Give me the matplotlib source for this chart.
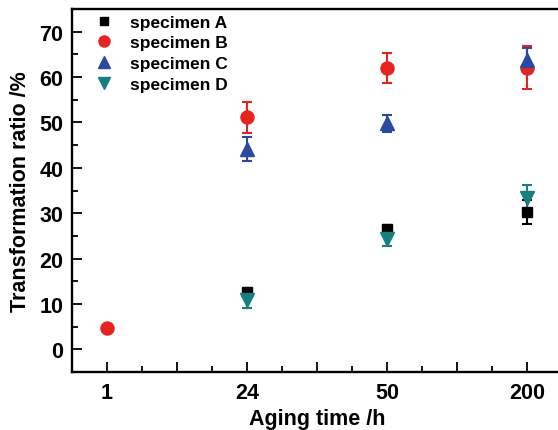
import matplotlib
matplotlib.use("Agg")
import matplotlib.pyplot as plt
from matplotlib.lines import Line2D
import numpy as np

plt.rcParams['font.family'] = ['Liberation Sans', 'DejaVu Sans']
plt.rcParams['font.weight'] = 'bold'

categories = ["1", "24", "50", "200"]

# specimen values (index into categories), value, error
a_idx = [1, 2, 3]
a_val = [12.7, 26.6, 30.3]
a_err = [0.8, 0.8, 2.7]

b_idx = [0, 1, 2, 3]
b_val = [4.7, 51.1, 62.0, 62.1]
b_err = [0.0, 3.4, 3.2, 4.8]

c_idx = [1, 2, 3]
c_val = [44.2, 49.8, 63.7]
c_err = [2.7, 1.8, 2.6]

d_idx = [1, 2, 3]
d_val = [10.8, 24.4, 33.3]
d_err = [1.8, 1.6, 3.0]

labels = ["specimen A", "specimen B", "specimen C", "specimen D"]
colors = ["#000000", "#e52421", "#2b4a9f", "#15807f"]
markers = ["s", "o", "^", "v"]
msizes = [7.2, 9.4, 10.5, 10.5]

fig = plt.figure(figsize=(5.58, 4.31), dpi=100)
ax = fig.add_axes([71.5/558, 58/431, 491/558, 363/431])

series = [(a_idx, a_val, a_err), (b_idx, b_val, b_err), (c_idx, c_val, c_err), (d_idx, d_val, d_err)]
for (idx, val, err), col, mk, ms in zip(series, colors, markers, msizes):
    ax.errorbar(idx, val, yerr=err, fmt=mk, color=col, ms=ms, mec=col, mfc=col,
                elinewidth=1.5, capsize=3.8, capthick=1.5, ls='none')

ax.set_xlim(-0.25, 3.25)
ax.set_ylim(-5, 75)
ax.set_xticks(np.arange(0, 3.01, 0.5))
ax.set_xticklabels([c if i % 2 == 0 else "" for i, c in enumerate([categories[0], "", categories[1], "", categories[2], "", categories[3]])])
ax.set_xticks(np.arange(-0.25, 3.26, 0.5), minor=True)
ax.set_yticks(np.arange(0, 71, 10))
ax.set_yticks(np.arange(-5, 76, 5), minor=True)

ax.tick_params(axis='both', which='major', direction='in', length=7, width=1.3, labelsize=15.5, pad=6)
ax.tick_params(axis='both', which='minor', direction='in', length=4, width=1.3)
ax.tick_params(axis='x', which='major', pad=7)
for sp in ax.spines.values():
    sp.set_linewidth(1.7)

ax.set_xlabel("Aging time /h", fontsize=15.5, fontweight='bold', labelpad=4)
ax.set_ylabel("Transformation ratio /%", fontsize=15.5, fontweight='bold', labelpad=6)

handles = [Line2D([], [], ls='none', marker=mk, color=col, ms=ms*0.85) for col, mk, ms in zip(colors, markers, msizes)]
ax.legend(handles, labels, loc='upper left', bbox_to_anchor=(90/558, 1 - 12/431), bbox_transform=fig.transFigure,
          frameon=False, handlelength=1.2, handletextpad=0.9, labelspacing=0.32,
          borderaxespad=0, borderpad=0.2, prop={'weight': 'bold', 'size': 12.5})

fig.savefig("out.png", dpi=100)
